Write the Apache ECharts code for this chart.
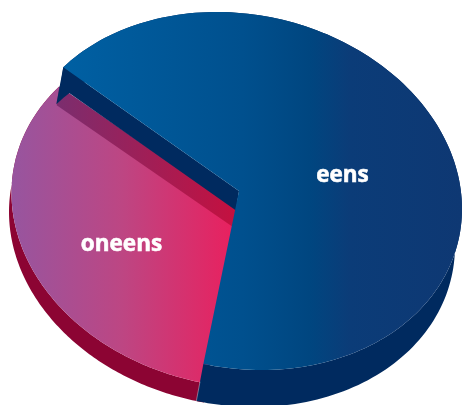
<!DOCTYPE html>
<html>
<head>
<meta charset="utf-8">
<script src="https://cdn.jsdelivr.net/npm/echarts@6/dist/echarts.min.js"></script>
<style>html,body{margin:0;padding:0;background:#fff}#c{width:462px;height:405px}</style>
</head>
<body>
<div id="c"></div>
<script>
var categories = ['oneens', 'eens'];
var values = [33, 67];

var START = 218;
var total = values[0] + values[1];
var eensSweep = values[1] / total * 360;
var oneensSweep = values[0] / total * 360;

var styles = [{
  cx: 236.5, cy: 209, A: 225, B: 179, rho: 0.09,
  from: START - oneensSweep - 1.5, to: START,
  side: [-2.5, 19], wall: [-2.5, 18.7],
  sideColor: '#8c0433', wallStops: ['#7b2d6e', '#c5103f'], wallX: [58, 236],
  faceStops: [[0, '#97559f'], [0.5, '#bd4683'], [1, '#e8215f']], faceX: [12, 232],
  labelX: 121.5, labelY: 244.5, order: { side: 0, face: 1, wall: 2 }
}, {
  cx: 239, cy: 191, A: 223, B: 179, rho: 0.1,
  from: START, to: START + eensSweep,
  side: [-7, 37], wall: [-3, 19.5],
  sideColor: '#002a5f', wallStops: ['#002a5f', '#002a5f'], wallX: [60, 240],
  faceStops: [[0, '#0060a3'], [0.45, '#00508e'], [0.62, '#004680'], [0.72, '#0b3c78'], [1, '#0e3873']], faceX: [62, 462],
  labelX: 342.5, labelY: 175.5, order: { side: 0, wall: 1, face: 2 }
}];

function rim(s, deg) {
  var t = deg * Math.PI / 180;
  return [s.cx + s.A * Math.cos(t),
          s.cy + s.B * (s.rho * Math.cos(t) + Math.sqrt(1 - s.rho * s.rho) * Math.sin(t))];
}
function arc(s, dx, dy) {
  var pts = [], n = 160;
  for (var i = 0; i <= n; i++) {
    var p = rim(s, s.from + (s.to - s.from) * i / n);
    pts.push([p[0] + dx, p[1] + dy]);
  }
  return pts;
}
function hgrad(x0, x1, stops) {
  return {
    type: 'linear', x: x0, y: 0, x2: x1, y2: 0, global: true,
    colorStops: stops.map(function (c) { return { offset: c[0], color: c[1] }; })
  };
}

function renderItem(params) {
  var i = params.dataIndex, s = styles[i], z = i * 10;
  var rimPts = arc(s, 0, 0);
  var sidePts = rimPts.concat(arc(s, s.side[0], s.side[1]).reverse());
  var start = rim(s, START);
  var w = s.wall;
  var wallPts = [start, [s.cx, s.cy], [s.cx + w[0], s.cy + w[1]], [start[0] + w[0], start[1] + w[1]]];
  var facePts = [[s.cx, s.cy]].concat(rimPts);
  var children = [
    { type: 'polygon', z2: z + s.order.side, shape: { points: sidePts }, style: { fill: s.sideColor } },
    { type: 'polygon', z2: z + s.order.wall, shape: { points: wallPts },
      style: { fill: hgrad(s.wallX[0], s.wallX[1], [[0, s.wallStops[0]], [1, s.wallStops[1]]]) } },
    { type: 'polygon', z2: z + s.order.face, shape: { points: facePts },
      style: { fill: hgrad(s.faceX[0], s.faceX[1], s.faceStops) } },
    { type: 'text', z2: 100, style: {
        text: categories[i], x: s.labelX, y: s.labelY, align: 'center', verticalAlign: 'middle',
        fill: '#ffffff', stroke: '#ffffff', lineWidth: 0.6, font: 'bold 22.5px "Open Sans"' } }
  ];
  if (i === 1) {
    var e = rimPts[rimPts.length - 1];
    children.push({ type: 'line', z2: z + 3, shape: {
        x1: e[0] + s.side[0] * 0.48, y1: e[1] + s.side[1] * 0.48,
        x2: e[0] + s.side[0], y2: e[1] + s.side[1] },
      style: { stroke: 'rgba(255,255,255,0.55)', lineWidth: 0.7 } });
  }
  return { type: 'group', children: children };
}

var chart = echarts.init(document.getElementById('c'), null, { renderer: 'canvas' });
chart.setOption({
  animation: false,
  backgroundColor: '#ffffff',
  series: [{
    type: 'custom',
    coordinateSystem: 'none',
    renderItem: renderItem,
    data: values.map(function (v, i) { return { name: categories[i], value: v }; })
  }]
});
</script>
</body>
</html>
